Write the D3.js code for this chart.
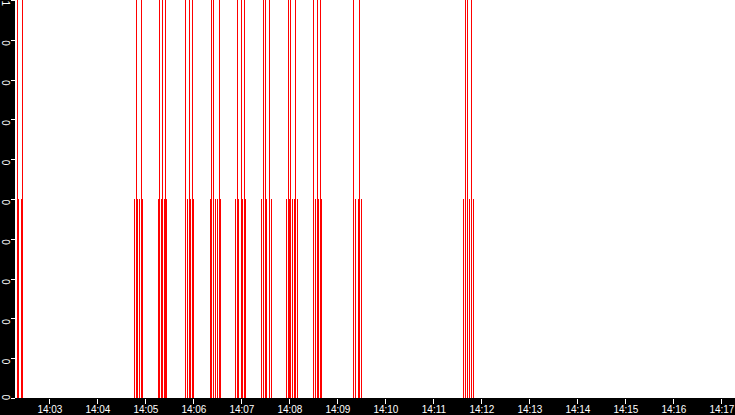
<!DOCTYPE html>
<html><head><meta charset="utf-8">
<script src="https://cdn.jsdelivr.net/npm/d3@7"></script>
<style>html,body{margin:0;padding:0;background:#fff;overflow:hidden}</style>
</head><body>
<svg id="c" width="735" height="415"></svg>
<script>
// Event times (value 1 = full pulse)
const fullTimes = ["14:02:19","14:02:26","14:04:48","14:04:54","14:05:17","14:05:21","14:05:25",
  "14:05:50","14:05:54","14:05:58","14:06:22","14:06:25","14:06:32","14:06:54","14:06:59","14:07:03",
  "14:07:27","14:07:30","14:07:35","14:07:58","14:08:01","14:08:07","14:08:30","14:08:34","14:08:38",
  "14:09:20","14:09:27","14:11:39","14:11:42","14:11:47"];
const fullValues = fullTimes.map(() => 1);
// Event times (value 0.5 = half pulse)
const halfTimes = ["14:02:21","14:02:24","14:04:46","14:04:50","14:04:52","14:04:56",
  "14:05:16","14:05:19","14:05:23","14:05:26","14:05:49","14:05:52","14:05:56","14:05:59",
  "14:06:21","14:06:24","14:06:27","14:06:30","14:06:33","14:06:52","14:06:56","14:07:01","14:07:04",
  "14:07:25","14:07:29","14:07:31","14:07:34","14:07:37","14:07:56","14:07:59","14:08:03","14:08:06","14:08:09",
  "14:08:29","14:08:32","14:08:36","14:08:39","14:09:19","14:09:22","14:09:26","14:09:29",
  "14:11:37","14:11:40","14:11:44","14:11:49"];
const halfValues = halfTimes.map(() => 0.5);
const xTickLabels = ["14:03","14:04","14:05","14:06","14:07","14:08","14:09","14:10","14:11","14:12","14:13","14:14","14:15","14:16","14:17"];
const yTickValues = [0,0.1,0.2,0.3,0.4,0.5,0.6,0.7,0.8,0.9,1];
const yTickLabels = ["0","0","0","0","0","0","0","0","0","0","1"];
const domainStart = "14:02:17.5", domainEnd = "14:17:17.5";

const parse = s => { const p = s.split(":").map(Number); return new Date(2020,0,1,p[0],p[1],p[2]||0); };
const W = 735, H = 415, left = 15, bottom = 398;
const svg = d3.select("#c");
const x = d3.scaleTime().domain([parse(domainStart), parse(domainEnd)]).range([left, W]);
const y = d3.scaleLinear().domain([0,1]).range([bottom, 0]);

svg.append("rect").attr("x",0).attr("y",0).attr("width",W).attr("height",H).attr("fill","#fff");

const data = fullTimes.map((t,i)=>({t:parse(t),v:fullValues[i]}))
  .concat(halfTimes.map((t,i)=>({t:parse(t),v:halfValues[i]})));
svg.append("g").selectAll("line").data(data).join("line")
  .attr("x1", d => Math.round(x(d.t)) + 0.5).attr("x2", d => Math.round(x(d.t)) + 0.5)
  .attr("y1", y(0)).attr("y2", d => y(d.v))
  .attr("stroke", "#ff0000").attr("stroke-width", 1).attr("shape-rendering","crispEdges");

// black axis bands
svg.append("rect").attr("x",0).attr("y",0).attr("width",left).attr("height",H).attr("fill","#000");
svg.append("rect").attr("x",0).attr("y",bottom).attr("width",W).attr("height",H-bottom).attr("fill","#000");

// x axis
const xTicks = xTickLabels.map(parse);
const xAxis = d3.axisBottom(x).tickValues(xTicks).tickFormat((d,i)=>xTickLabels[i]).tickSize(5).tickSizeOuter(0);
const gx = svg.append("g").attr("transform",`translate(0,${bottom+1})`).call(xAxis);
gx.select(".domain").remove();
gx.selectAll(".tick line").attr("stroke","#fff").attr("shape-rendering","crispEdges");
gx.selectAll(".tick text").attr("fill","#fff").attr("font-family","'Liberation Sans', Arial, sans-serif")
  .attr("font-size","10px").attr("y",7).attr("dy","0.71em");

// y axis
const yAxis = d3.axisLeft(y).tickValues(yTickValues).tickFormat((d,i)=>yTickLabels[i]).tickSize(4).tickSizeOuter(0);
const gy = svg.append("g").attr("transform",`translate(${left},0)`).call(yAxis);
gy.select(".domain").remove();
gy.selectAll(".tick line").attr("stroke","#fff").attr("shape-rendering","crispEdges");
gy.selectAll(".tick text").attr("fill","#fff").attr("font-family","'Liberation Sans', Arial, sans-serif")
  .attr("font-size","10px").attr("x",null).attr("dy",null)
  .attr("text-anchor","start")
  .attr("transform", d => `translate(-13,${d===0 ? -4 : 0}) rotate(90)`);
</script>
</body></html>
